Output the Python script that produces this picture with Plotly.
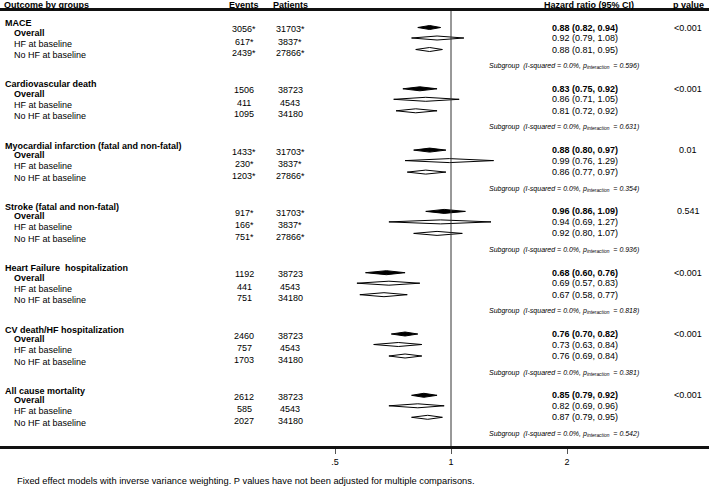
import math
import plotly.graph_objects as go

# ---------------- data ----------------
outcomes = ["MACE", "Cardiovascular death", "Myocardial infarction (fatal and non-fatal)",
            "Stroke (fatal and non-fatal)", "Heart Failure  hospitalization",
            "CV death/HF hospitalization", "All cause mortality"]
subgroups = ["Overall", "HF at baseline", "No HF at baseline"]
events = [["3056*", "617*", "2439*"], ["1506", "411", "1095"], ["1433*", "230*", "1203*"],
          ["917*", "166*", "751*"], ["1192", "441", "751"], ["2460", "757", "1703"],
          ["2612", "585", "2027"]]
patients = [["31703*", "3837*", "27866*"], ["38723", "4543", "34180"], ["31703*", "3837*", "27866*"],
            ["31703*", "3837*", "27866*"], ["38723", "4543", "34180"], ["38723", "4543", "34180"],
            ["38723", "4543", "34180"]]
hr = [[0.88, 0.92, 0.88], [0.83, 0.86, 0.81], [0.88, 0.99, 0.86], [0.96, 0.94, 0.92],
      [0.68, 0.69, 0.67], [0.76, 0.73, 0.76], [0.85, 0.82, 0.87]]
ci_low = [[0.82, 0.79, 0.81], [0.75, 0.71, 0.72], [0.80, 0.76, 0.77], [0.86, 0.69, 0.80],
          [0.60, 0.57, 0.58], [0.70, 0.63, 0.69], [0.79, 0.69, 0.79]]
ci_high = [[0.94, 1.08, 0.95], [0.92, 1.05, 0.92], [0.97, 1.29, 0.97], [1.09, 1.27, 1.07],
           [0.76, 0.83, 0.77], [0.82, 0.84, 0.84], [0.92, 0.96, 0.95]]
p_values = ["<0.001", "<0.001", "0.01", "0.541", "<0.001", "<0.001", "<0.001"]
p_interaction = ["0.596", "0.631", "0.354", "0.936", "0.818", "0.381", "0.542"]
tick_vals = [0.5, 1, 2]
tick_text = [".5", "1", "2"]
footnote = "Fixed effect models with inverse variance weighting. P values have not been adjusted for multiple comparisons."

# ---------------- layout geometry (pixel-based rows) ----------------
W, H = 709, 487
TOP, BOT = 11, 446           # plot area top / bottom in pixels
FIRST, PITCH = 23, 61.3      # group title row position, group pitch
LABEL_OFF = [9.5, 20.5, 32]
NUM_OFF = [6, 18.5, 30]
DIA_OFF = [4.5, 15, 26.5]
SUB_OFF = 43
HALF = 2.0                   # half height of diamonds (px)
FONT = "Liberation Sans, Arial, sans-serif"


def px(xp):
    return xp / W


def py(yp):
    return (BOT - yp) / (BOT - TOP)


fig = go.Figure()

fx, fy, hx, hy = [], [], [], []
ann = []
for g, name in enumerate(outcomes):
    base = FIRST + PITCH * g
    ann.append(dict(x=px(3), y=base, text="<b>%s</b>" % name, xanchor="left"))
    for k, sg in enumerate(subgroups):
        yl = base + LABEL_OFF[k]
        yn = base + NUM_OFF[k]
        yd = base + DIA_OFF[k]
        lab = "<b>%s</b>" % sg if k == 0 else sg
        ann.append(dict(x=px(12), y=yl, text=lab, xanchor="left"))
        ann.append(dict(x=px(244), y=yn, text=events[g][k], xanchor="center"))
        ann.append(dict(x=px(290), y=yn, text=patients[g][k], xanchor="center"))
        t = "%.2f (%.2f, %.2f)" % (hr[g][k], ci_low[g][k], ci_high[g][k])
        if k == 0:
            t = "<b>%s</b>" % t
        ann.append(dict(x=px(585), y=yd, text=t, xanchor="center"))
        xs = [ci_low[g][k], hr[g][k], ci_high[g][k], hr[g][k], ci_low[g][k], None]
        ys = [yd, yd - HALF, yd, yd + HALF, yd, None]
        if k == 0:
            fx += xs; fy += ys
        else:
            hx += xs; hy += ys
    ann.append(dict(x=px(688), y=base + DIA_OFF[0], text=p_values[g], xanchor="center"))
    ann.append(dict(x=px(564), y=base + SUB_OFF,
                    text="<i>Subgroup  (I-squared = 0.0%%, p<sub>interaction</sub>  = %s)</i>" % p_interaction[g],
                    xanchor="center", font=dict(size=7, family=FONT, color="black")))

fig.add_trace(go.Scatter(x=hx, y=hy, mode="lines", fill="toself", fillcolor="white",
                         line=dict(color="black", width=1), hoverinfo="skip", showlegend=False))
fig.add_trace(go.Scatter(x=fx, y=fy, mode="lines", fill="toself", fillcolor="black",
                         line=dict(color="black", width=1), hoverinfo="skip", showlegend=False))

annotations = []
for a in ann:
    d = dict(xref="paper", yref="y", showarrow=False, yanchor="middle",
             font=dict(size=9, family=FONT, color="black"))
    d.update(a)
    annotations.append(d)

# header
for xp, txt, anc in [(2, "Outcome by groups", "left"), (244, "Events", "center"),
                     (290, "Patients", "center"), (589, "Hazard ratio (95% CI)", "center"),
                     (688, "p value", "center")]:
    annotations.append(dict(xref="paper", yref="paper", x=px(xp), y=py(5), text="<b>%s</b>" % txt,
                            xanchor=anc, yanchor="middle", showarrow=False,
                            font=dict(size=9, family=FONT, color="black")))
# footnote
annotations.append(dict(xref="paper", yref="paper", x=px(15), y=py(481), text=footnote,
                        xanchor="left", yanchor="middle", showarrow=False,
                        font=dict(size=9.3, family=FONT, color="black")))

decade = 116 / math.log10(2)       # px per decade
x_one = 451
xr = [-(x_one / decade), (W - x_one) / decade]

fig.add_vline(x=1, line=dict(color="#333", width=1))

fig.update_layout(
    width=W, height=H, margin=dict(l=0, r=0, t=TOP, b=H - BOT),
    plot_bgcolor="white", paper_bgcolor="white",
    annotations=annotations, showlegend=False,
    xaxis=dict(type="log", range=xr, showgrid=False, zeroline=False,
               showline=True, linecolor="#111", linewidth=3, mirror=True,
               tickmode="array", tickvals=tick_vals, ticktext=tick_text,
               ticks="outside", ticklen=5, tickwidth=1, tickcolor="#555",
               tickfont=dict(size=9, family=FONT, color="black")),
    yaxis=dict(range=[BOT, TOP], visible=False, showgrid=False, zeroline=False),
)

fig.write_html("out.html", config={"displayModeBar": False},
               post_script="document.body.style.margin='0px';")
